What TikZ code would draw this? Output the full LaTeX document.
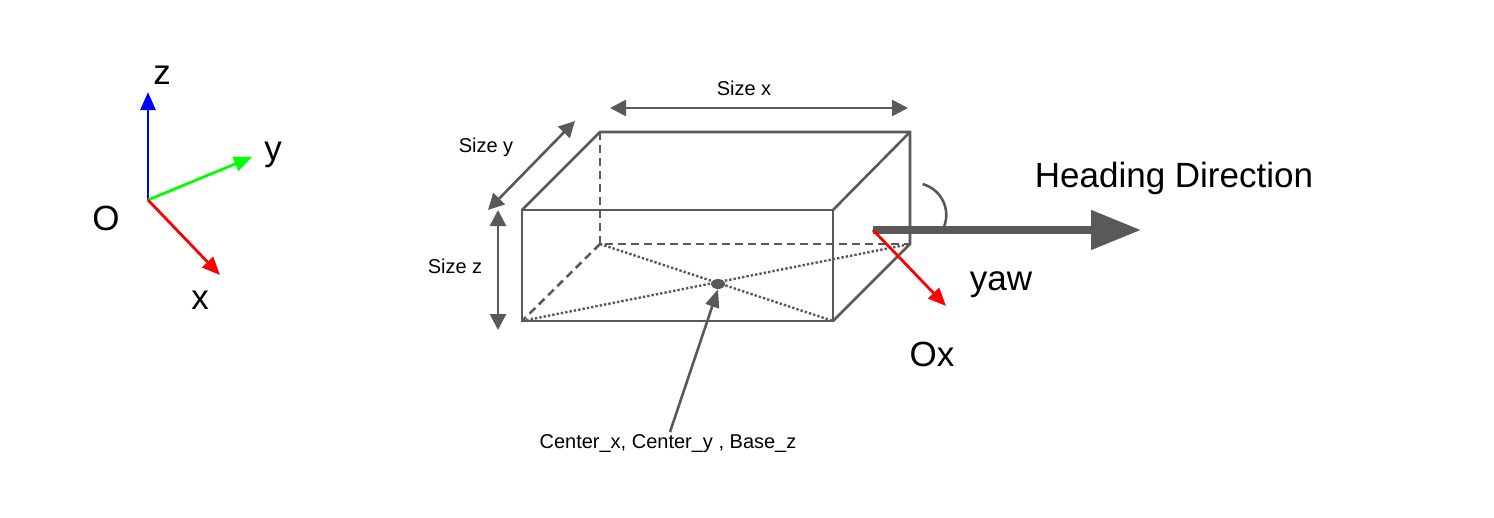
\documentclass[tikz,border=0pt]{standalone}
\usepackage{fontspec}
\setmainfont{Liberation Sans}
\usetikzlibrary{arrows.meta,shapes.geometric}
\definecolor{boxgray}{HTML}{595959}
\tikzset{
  edge/.style={draw=boxgray, line width=2.6pt},
  hidden/.style={edge, dashed, dash pattern=on 8pt off 5pt},
  diag/.style={draw=boxgray, line width=2.4pt, dotted},
  dim/.style={edge, {Triangle[length=16pt,width=16pt]}-{Triangle[length=16pt,width=16pt]}},
  big/.style={font=\fontsize{35}{40}\selectfont},
  small/.style={font=\fontsize{20}{24}\selectfont},
  axis/.style={line width=2.8pt, -{Triangle[length=18pt,width=15pt]}}
}
\begin{document}
\begin{tikzpicture}[x=1pt,y=-1pt]
  \useasboundingbox (0,0) rectangle (1494,517);
  % frame axes
  \coordinate (o) at (148,200);
  \coordinate (zt) at (148,92);
  \coordinate (yt) at (252,157);
  \coordinate (xt) at (220,275);
  \draw[axis, blue] (o) -- (zt);
  \draw[axis, green] (o) -- (yt);
  \draw[axis, red] (o) -- (xt);
  \node[big] (zl) at (162,75) {z};
  \node[big] (yl) at (273,155) {y};
  \node[big] (ol) at (106,218) {O};
  \node[big] (xl) at (200,300) {x};

  % box corners
  \coordinate (fa) at (522,210); \coordinate (fb) at (833,210);
  \coordinate (fc) at (833,321); \coordinate (fd) at (522,321);
  \coordinate (ba) at (600,132); \coordinate (bb) at (910,132);
  \coordinate (bc) at (910,244); \coordinate (bd) at (600,244);
  \draw[hidden] (ba) -- (bd) -- (bc);
  \draw[hidden] (bd) -- (fd);
  \draw[diag] (bd) -- (fc);
  \draw[diag] (fd) -- (bc);
  \draw[edge] (fa) -- (fb) -- (fc) -- (fd) -- cycle;
  \draw[edge] (fa) -- (ba) -- (bb) -- (bc) -- (fc);
  \draw[edge] (fb) -- (bb);
  \node[ellipse, fill=boxgray, minimum width=14pt, minimum height=10pt, inner sep=0pt] (ctr) at (718,284) {};

  % dimensions
  \coordinate (sx1) at (610,108); \coordinate (sx2) at (908,108);
  \coordinate (sy1) at (488,210); \coordinate (sy2) at (575,121);
  \coordinate (sz1) at (498,210); \coordinate (sz2) at (498,330);
  \draw[dim] (sx1) -- (sx2);
  \draw[dim] (sy1) -- (sy2);
  \draw[dim] (sz1) -- (sz2);
  \node[small] (sxl) at (744,88) {Size x};
  \node[small] (syl) at (486,147) {Size y};
  \node[small] (szl) at (455,266) {Size z};

  % heading
  \coordinate (hs) at (873,230);
  \coordinate (he) at (1141,230);
  \coordinate (oxe) at (946,306);
  \draw[draw=boxgray, line width=8pt, -{Triangle[length=50pt,width=38pt]}] (hs) -- (he);
  \draw[red, line width=2.8pt, -{Triangle[length=18pt,width=15pt]}] (hs) -- (oxe);
  \draw[edge] (942,231) arc[start angle=30, end angle=-75, radius=32];
  \node[big] (hl) at (1174,178) {Heading Direction};
  \node[big] (yawl) at (1001,285) {yaw};
  \node[big] (oxl) at (932,354) {Ox};

  % center label
  \node[small] (cl) at (668,444) {Center\_x, Center\_y , Base\_z};
  \coordinate (cs) at (670,432);
  \draw[edge, -{Triangle[length=18pt,width=14pt]}] (cs) -- (ctr.south);
\end{tikzpicture}
\end{document}
